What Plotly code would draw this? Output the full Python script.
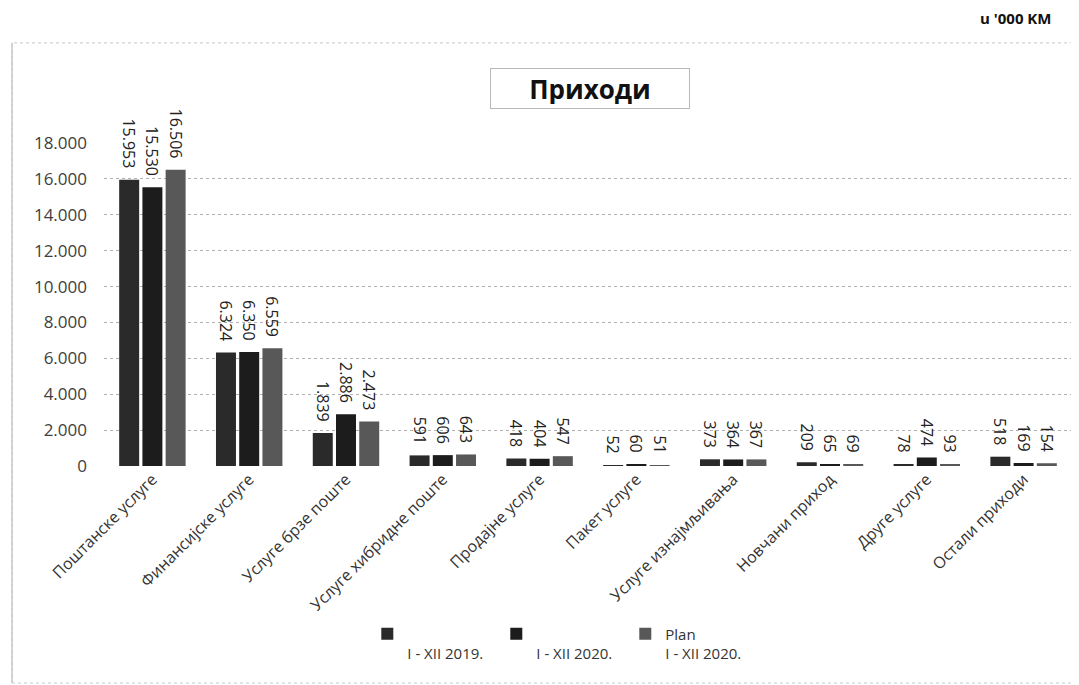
import plotly.graph_objects as go

categories = ["Поштанске услуге", "Финансијске услуге", "Услуге брзе поште",
              "Услуге хибридне поште", "Продајне услуге", "Пакет услуге",
              "Услуге изнајмљивања", "Новчани приход", "Друге услуге", "Остали приходи"]
series_names = [" <br>I - XII 2019.", " <br>I - XII 2020.", "Plan<br>I - XII 2020."]
values_2019 = [15953, 6324, 1839, 591, 418, 52, 373, 209, 78, 518]
values_2020 = [15530, 6350, 2886, 606, 404, 60, 364, 65, 474, 169]
values_plan = [16506, 6559, 2473, 643, 547, 51, 367, 69, 93, 154]
colors = ["#2a2a2a", "#1c1c1c", "#585858"]

FONT = "Open Sans"
fig = go.Figure()
for name, vals, col in zip(series_names, [values_2019, values_2020, values_plan], colors):
    fig.add_trace(go.Bar(
        x=categories, y=vals, name=name, marker_color=col,
        marker_line_width=0,
        text=vals, texttemplate="%{y:,}\u00a0\u00a0", textposition="outside",
        textangle=90, cliponaxis=False, constraintext="none",
        textfont=dict(family=FONT, size=16, color="#222"),
    ))

fig.update_layout(
    width=1079, height=685,
    paper_bgcolor="white", plot_bgcolor="white",
    separators=",.",
    barmode="group", bargap=0.28, bargroupgap=0.14,
    margin=dict(l=96, r=15, t=135, b=227),
    font=dict(family=FONT, color="#333"),
    uniformtext=dict(minsize=16, mode="show"),
    showlegend=True,
    legend=dict(orientation="h", x=0.272, xanchor="left", y=-0.469, yanchor="top",
                valign="top", font=dict(family=FONT, size=15, color="#333"),
                itemwidth=30, entrywidth=84, entrywidthmode="pixels",
                traceorder="normal", bgcolor="rgba(0,0,0,0)"),
    yaxis=dict(range=[0, 18000], dtick=2000, tickformat=",d",
               showgrid=True, gridcolor="#b0b0b0", griddash="dot", gridwidth=1,
               zeroline=False, showline=False, ticks="", ticklabelstandoff=16,
               tickfont=dict(family=FONT, size=17, color="#404040")),
    xaxis=dict(tickangle=-45, showline=False, ticks="",
               tickfont=dict(family=FONT, size=16, color="#333")),
    shapes=[
        dict(type="rect", xref="paper", yref="paper", x0=-0.095, x1=1.08,
             y0=-0.672, y1=1.310, line=dict(color="#c8c8c8", width=1, dash="dot"),
             fillcolor="rgba(0,0,0,0)", layer="below"),
        dict(type="line", xref="paper", yref="paper", x0=-0.095, x1=-0.095,
             y0=-0.672, y1=1.310, line=dict(color="#c8c8c8", width=1.5),
             layer="below"),
    ],
    annotations=[
        dict(text="<b>Приходи</b>", xref="paper", yref="paper", x=0.502, y=1.170,
             xanchor="center", yanchor="middle", showarrow=False,
             width=190, height=31, borderpad=4,
             font=dict(family=FONT, size=26, color="#111"),
             bordercolor="#b8b8b8", borderwidth=1, bgcolor="white"),
        dict(text="<b>u '000 KM</b>", xref="paper", yref="paper", x=0.980, y=1.387,
             xanchor="right", yanchor="middle", showarrow=False,
             font=dict(family=FONT, size=15, color="#111")),
    ],
)

fig.write_html("out.html")
